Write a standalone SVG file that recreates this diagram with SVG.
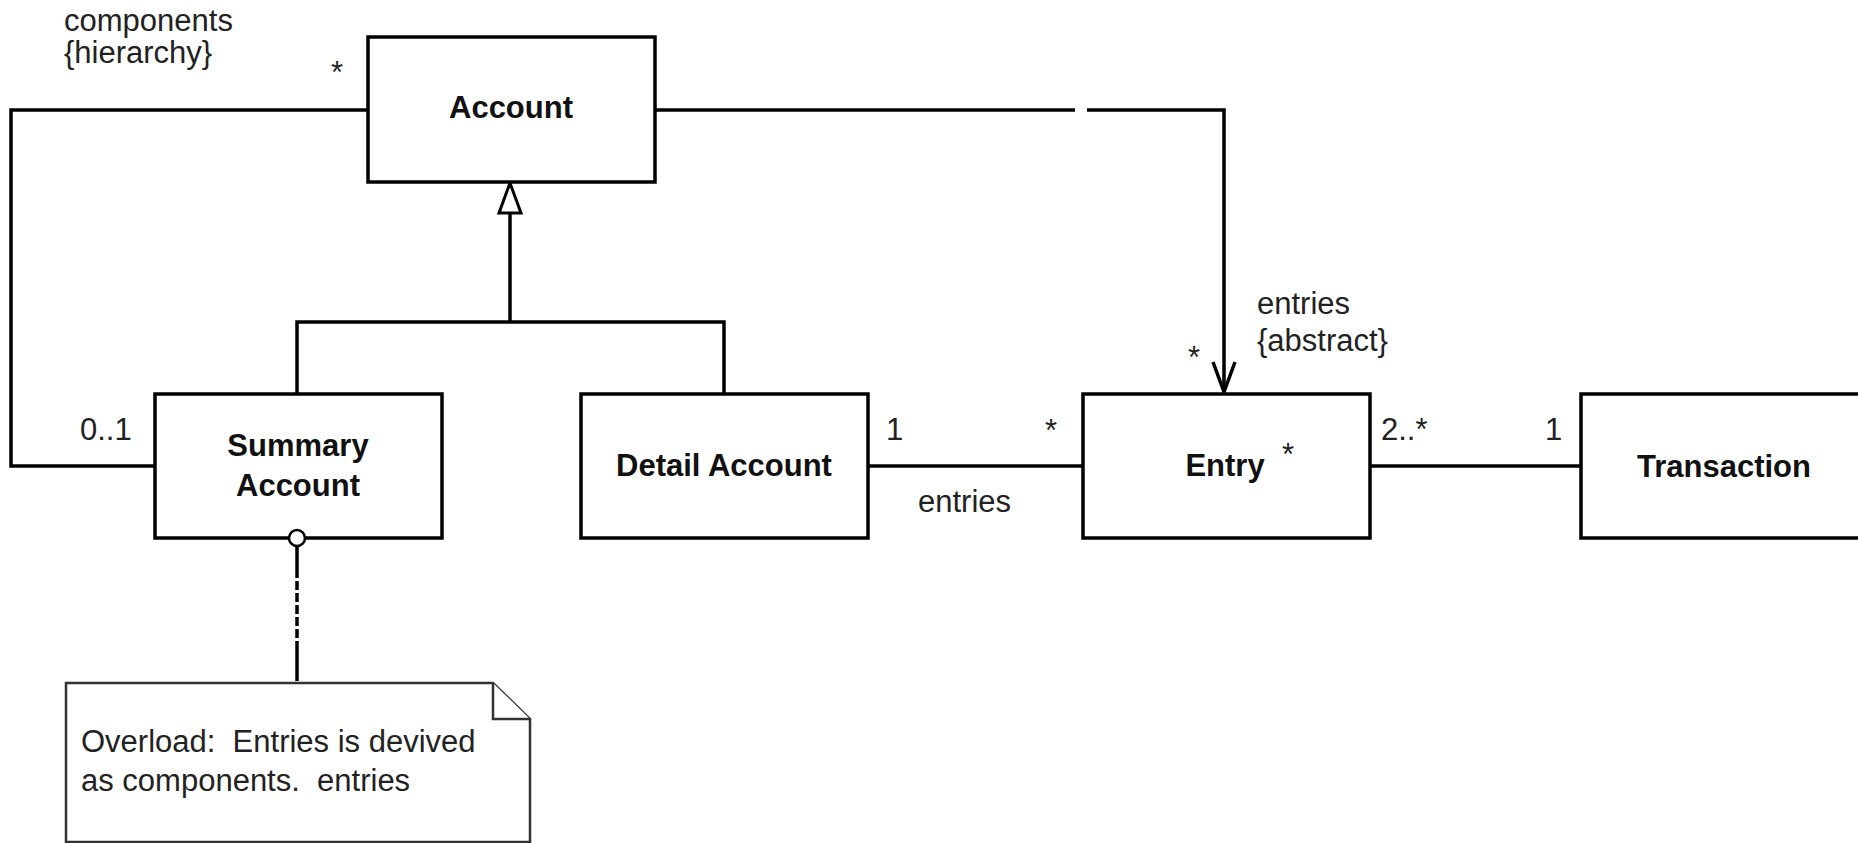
<svg xmlns="http://www.w3.org/2000/svg" width="1858" height="843" viewBox="0 0 1858 843">
<style>
.box{fill:#fff;stroke:#000;stroke-width:3.5}
.ln{fill:none;stroke:#000;stroke-width:3.5}
.nm{font-family:"Liberation Sans",Arial,sans-serif;font-size:31px;font-weight:bold;fill:#111;text-anchor:middle}
.lb{font-family:"Liberation Sans",Arial,sans-serif;font-size:31px;fill:#222}
.note{fill:#fff;stroke:#333;stroke-width:2.5}
</style>
<rect width="1858" height="843" fill="#fff"/>
<g id="connectors">
<path class="ln" d="M368,110 H11 V466 H155"/>
<path class="ln" d="M655,110 H1075"/>
<path class="ln" d="M1087,110 H1224 V392"/>
<polyline class="ln" points="1213,362 1224,392 1235,362"/>
<path class="ln" d="M510,213 V322"/>
<path class="ln" d="M297,394 V322 H724 V394"/>
<polygon points="510,183 499,213 521,213" fill="#fff" stroke="#000" stroke-width="3"/>
<path class="ln" d="M867,466 H1083"/>
<path class="ln" d="M1369,466 H1581"/>
<path class="ln" d="M297,546 V683" stroke-dasharray="32,3,9,3,9,3,9,3,9,3,9,3,40"/>
</g>
<g id="labels">
<text class="lb" x="64" y="31">components</text>
<text class="lb" x="64" y="63">{hierarchy}</text>
<text class="lb" x="331" y="83">*</text>
<text class="lb" x="80" y="440">0..1</text>
<text class="lb" x="886" y="440">1</text>
<text class="lb" x="1045" y="441">*</text>
<text class="lb" x="918" y="512">entries</text>
<text class="lb" x="1257" y="314">entries</text>
<text class="lb" x="1257" y="351">{abstract}</text>
<text class="lb" x="1188" y="368">*</text>
<text class="lb" x="1381" y="440">2..*</text>
<text class="lb" x="1545" y="440">1</text>
</g>
<g id="account">
<rect class="box" x="368" y="37" width="287" height="145"/>
<text class="nm" x="511" y="118">Account</text>
</g>
<g id="summary-account">
<rect class="box" x="155" y="394" width="287" height="144"/>
<text class="nm" x="298" y="456">Summary</text>
<text class="nm" x="298" y="496">Account</text>
<circle cx="297" cy="538" r="8" fill="#fff" stroke="#000" stroke-width="2.5"/>
</g>
<g id="detail-account">
<rect class="box" x="581" y="394" width="287" height="144"/>
<text class="nm" x="724" y="476">Detail Account</text>
</g>
<g id="entry">
<rect class="box" x="1083" y="394" width="287" height="144"/>
<text class="nm" x="1225" y="476">Entry</text>
<text class="lb" x="1282" y="465">*</text>
</g>
<g id="transaction">
<rect class="box" x="1581" y="394" width="300" height="144"/>
<text class="nm" x="1724" y="477">Transaction</text>
</g>
<g id="note">
<polygon class="note" points="66,683 493,683 530,719 530,842 66,842"/>
<polyline class="note" fill="none" points="493,683 493,719 530,719"/>
<text class="lb" x="81" y="752" xml:space="preserve">Overload:  Entries is devived</text>
<text class="lb" x="81" y="791" xml:space="preserve">as components.  entries</text>
</g>
</svg>
